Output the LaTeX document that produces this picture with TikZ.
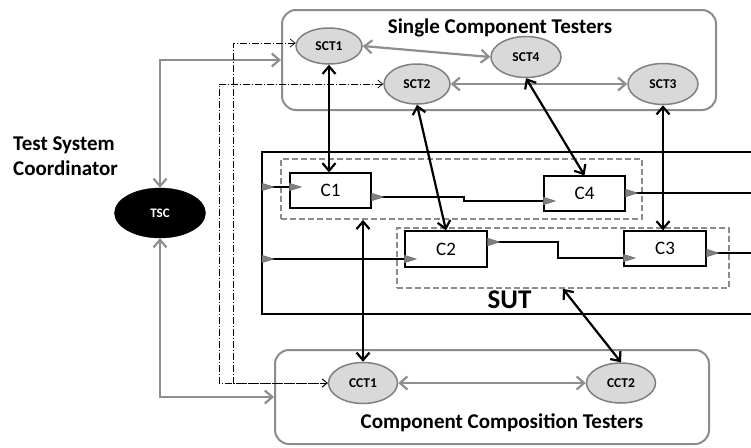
\documentclass[tikz,border=0pt]{standalone}
\usepackage{fontspec}
\setmainfont{Carlito}
\usetikzlibrary{arrows.meta,calc,shapes.geometric}

\definecolor{framegray}{HTML}{8C8C8C}
\definecolor{linkgray}{HTML}{8E8E8E}
\definecolor{ellfill}{HTML}{D9D9D9}
\definecolor{ellline}{HTML}{808080}
\definecolor{portgray}{HTML}{7F7F7F}

\begin{document}
\begin{tikzpicture}[x=1pt,y=-1pt,
  group/.style={draw=framegray, line width=2pt, rounded corners=14pt, inner sep=0pt},
  tester/.style={ellipse, draw=ellline, fill=ellfill, line width=1.5pt, inner sep=0pt,
    font=\fontsize{13.5}{13.5}\selectfont\bfseries},
  coord/.style={ellipse, draw=black, fill=black, text=white, inner sep=0pt,
    font=\fontsize{13}{13}\selectfont\bfseries},
  comp/.style={rectangle, draw=black, line width=1.3pt, fill=white, inner sep=0pt,
    font=\fontsize{19}{19}\selectfont},
  cluster/.style={draw=framegray, dash pattern=on 6pt off 3pt, line width=1.8pt, inner sep=0pt},
  barb/.tip={Straight Barb[length=7.5pt,width=13pt]},
  graylink/.style={draw=linkgray, line width=2.2pt, barb-barb},
  blacklink/.style={draw=black, line width=2.2pt, barb-barb},
  ctrl/.style={draw=black, line width=0.7pt, dash pattern=on 7pt off 2pt on 1pt off 2pt,
    {Straight Barb[length=5pt,width=8pt]}-{Straight Barb[length=5pt,width=8pt]}},
  flow/.style={draw=black, line width=2pt},
  title/.style={font=\fontsize{21}{25}\selectfont\bfseries, inner sep=0pt},
  port/.pic={\filldraw[fill=portgray, draw=black!60, line width=0.4pt]
    (0,-3.8) -- (12,0) -- (0,3.8) -- cycle;}
]
\useasboundingbox (0,0) rectangle (751,447);
\fill[white] (0,0) rectangle (751,447);

% tester groups
\node[group, minimum width=434pt, minimum height=100pt] (SCTbox) at (499,60) {};
\node[group, minimum width=434pt, minimum height=94pt] (CCTbox) at (492,397) {};
\node[title, anchor=base] (SCTtitle) at (500,33) {Single Component Testers};
\node[title, anchor=base] (CCTtitle) at (502,428) {Component Composition Testers};

% coordinator
\node[title, anchor=base west] (tscA) at (13,150) {Test System};
\node[title, anchor=base west] (tscB) at (13,175) {Coordinator};
\node[coord, minimum width=91pt, minimum height=50pt] (TSC) at (160,213) {TSC};

% system under test
\draw[line width=2pt] (754,152) -| (262,314) -- (754,314);
\node[font=\fontsize{27}{27}\selectfont\bfseries, anchor=base, inner sep=0pt] (SUTlabel) at (509.5,308) {SUT};
\node[cluster, minimum width=361pt, minimum height=60pt] (Dbox1) at (461.5,189) {};
\node[cluster, minimum width=332pt, minimum height=60pt] (Dbox2) at (563,258) {};

% testers
\node[tester, minimum width=66pt, minimum height=36pt] (SCT1) at (329,46) {SCT1};
\node[tester, minimum width=66pt, minimum height=40pt] (SCT2) at (417,84) {SCT2};
\node[tester, minimum width=70pt, minimum height=41pt] (SCT4) at (526,57) {SCT4};
\node[tester, minimum width=70pt, minimum height=41pt] (SCT3) at (663,84) {SCT3};
\node[tester, minimum width=69pt, minimum height=41pt] (CCT1) at (363,383) {CCT1};
\node[tester, minimum width=69pt, minimum height=40pt] (CCT2) at (621,383) {CCT2};

% components
\node[comp, minimum width=81pt, minimum height=35pt] (C1) at (330.5,190.5) {C1};
\node[comp, minimum width=82pt, minimum height=36pt] (C2) at (446,249) {C2};
\node[comp, minimum width=81pt, minimum height=35pt] (C4) at (584.5,193.5) {C4};
\node[comp, minimum width=82pt, minimum height=35pt] (C3) at (665,248.5) {C3};

% port positions
\coordinate (sutA) at (262,187);
\coordinate (sutB) at (262,259);
\coordinate (c1in) at (C1.west |- 0,187);
\coordinate (c1out) at (C1.east |- 0,197);
\coordinate (c4in) at (C4.west |- 0,201);
\coordinate (c4out) at (C4.east |- 0,193);
\coordinate (c2in) at (C2.west |- 0,259);
\coordinate (c2out) at (C2.east |- 0,242);
\coordinate (c3in) at (C3.west |- 0,258);
\coordinate (c3out) at (C3.east |- 0,253);
\coordinate (exitA) at (754,193);
\coordinate (exitB) at (754,253);

% data flow
\draw[flow] (sutA) -- (c1in);
\draw[flow] (sutB) -- (c2in);
\draw[flow] (c1out) -- ++(92,0) |- (c4in);
\draw[flow] (c2out) -- ++(70,0) |- (c3in);
\draw[flow] (c4out) -- (exitA);
\draw[flow] (c3out) -- (exitB);
\foreach \p in {sutA,sutB,c1in,c2in,c3in,c4in,c1out,c2out,c3out,c4out}
  \pic at (\p) {port};

% tester links
\draw[graylink] (SCT1.east) -- (SCT4.west);
\draw[graylink] (SCT2.east) -- (SCT3.west);
\draw[graylink] (CCT1.east) -- (CCT2.west);
\draw[graylink] (TSC.north) |- (SCTbox.west);
\draw[graylink] (TSC.south) |- (CCTbox.west);

\draw[blacklink] (SCT1.south) -- (SCT1.south |- C1.north);
\draw[blacklink] (SCT2.south) -- (C2.north);
\draw[blacklink] (SCT4.south) -- (C4.north);
\draw[blacklink] (SCT3.south) -- (SCT3.south |- C3.north);
\draw[blacklink] (CCT1.north |- Dbox1.south) -- (CCT1.north);
\draw[blacklink] (Dbox2.south) -- (CCT2.north);

% control lines
\coordinate (ctlA) at (233,383);
\coordinate (ctlB) at (219,383);
\draw[ctrl] (SCT1.175) -| (ctlA) -- (CCT1.west);
\draw[ctrl] (SCT2.west) -| (ctlB) -- (CCT1.west);
\end{tikzpicture}
\end{document}
